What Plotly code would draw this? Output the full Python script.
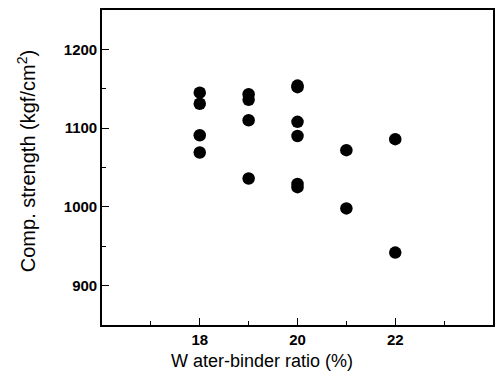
import plotly.graph_objects as go

ratio = [18, 18, 18, 18, 19, 19, 19, 19, 20, 20, 20, 20, 20, 20, 21, 21, 22, 22]
strength = [1145, 1131, 1091, 1069, 1143, 1136, 1110, 1036, 1154, 1152, 1108, 1090, 1029, 1025, 1072, 998, 1086, 942]

x_ticks = [18, 20, 22]
y_ticks = [900, 1000, 1100, 1200]

x_title = "W ater-binder ratio (%)"
y_title = "Comp. strength (kgf/cm<sup>2</sup>)"

fig = go.Figure()
fig.add_trace(go.Scatter(
    x=ratio, y=strength, mode="markers",
    marker=dict(symbol="circle", size=12.5, color="black", line=dict(width=0)),
    showlegend=False,
))

fam = "Liberation Sans, Arial, sans-serif"

fig.update_layout(
    width=499, height=374,
    margin=dict(l=102, r=4, t=10, b=49),
    paper_bgcolor="white", plot_bgcolor="white",
    font=dict(family=fam, color="black"),
)
fig.update_xaxes(
    range=[16, 24], tickvals=x_ticks, ticktext=[str(v) for v in x_ticks],
    ticks="inside", ticklen=7, tickwidth=1.2, tickcolor="black",
    minor=dict(tickvals=[17, 19, 21, 23], ticks="inside", ticklen=4, tickcolor="black"),
    showline=True, linecolor="black", linewidth=1.6, mirror=True,
    showgrid=False, zeroline=False,
    tickfont=dict(size=15, family=fam, weight="bold"),
)
fig.update_yaxes(
    range=[850, 1250], tickvals=y_ticks, ticktext=[str(v) for v in y_ticks],
    ticks="inside", ticklen=7, tickwidth=1.2, tickcolor="black",
    minor=dict(tickvals=[950, 1050, 1150], ticks="inside", ticklen=4, tickcolor="black"),
    showline=True, linecolor="black", linewidth=1.6, mirror=True,
    showgrid=False, zeroline=False,
    tickfont=dict(size=15, family=fam, weight="bold"),
)
fig.add_annotation(
    text=x_title, xref="paper", yref="paper", x=0.41, y=0,
    xanchor="center", yanchor="top", yshift=-24, showarrow=False,
    font=dict(size=18, family=fam),
)
fig.add_annotation(
    text=y_title, xref="paper", yref="paper", x=0, y=0.52,
    xanchor="center", yanchor="middle", xshift=-76, textangle=-90, showarrow=False,
    font=dict(size=20, family=fam),
)

fig.write_html("out.html")
